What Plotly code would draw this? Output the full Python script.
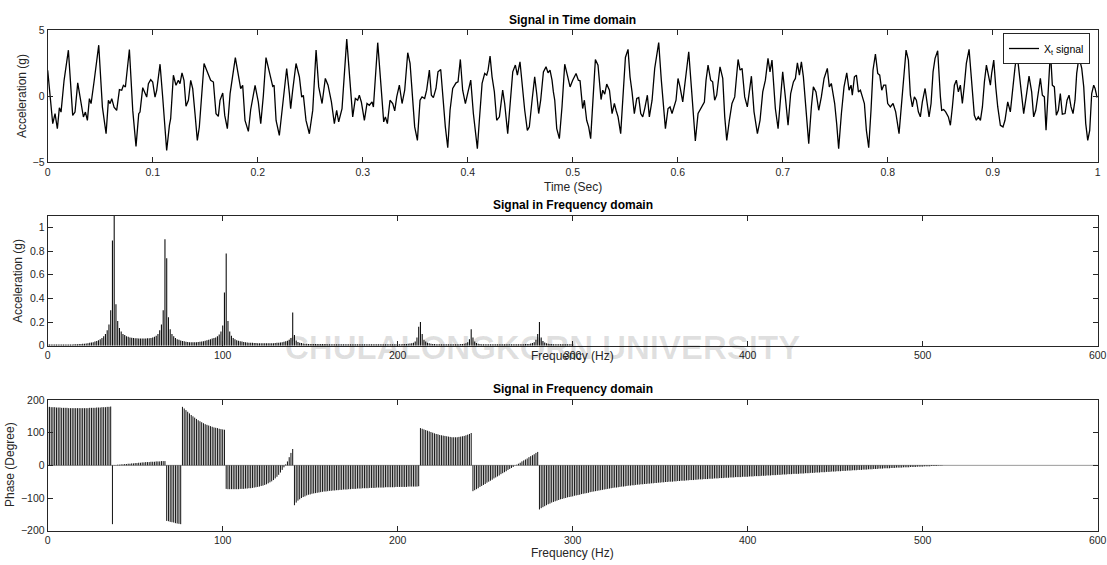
import plotly.graph_objects as go

FONT = "Liberation Sans, Arial, Helvetica, sans-serif"
INK = "#262626"

# ---------------- Time domain signal ----------------
time_s = [
    0.0000, 0.0048, 0.0070, 0.0092, 0.0111, 0.0127, 0.0156, 0.0197, 0.0238, 0.0260,
    0.0286, 0.0308, 0.0340, 0.0359, 0.0378, 0.0397, 0.0413, 0.0441, 0.0486, 0.0521,
    0.0556, 0.0578, 0.0594, 0.0610, 0.0632, 0.0657, 0.0683, 0.0705, 0.0721, 0.0740,
    0.0778, 0.0810, 0.0841, 0.0867, 0.0879, 0.0905, 0.0924, 0.0943, 0.0959, 0.0981,
    0.1000, 0.1022, 0.1038, 0.1070, 0.1095, 0.1133, 0.1159, 0.1171, 0.1197, 0.1222,
    0.1244, 0.1260, 0.1279, 0.1298, 0.1317, 0.1340, 0.1362, 0.1381, 0.1403, 0.1425,
    0.1444, 0.1467, 0.1489, 0.1514, 0.1552, 0.1578, 0.1603, 0.1625, 0.1641, 0.1667,
    0.1686, 0.1711, 0.1737, 0.1787, 0.1825, 0.1838, 0.1857, 0.1879, 0.1911, 0.1933,
    0.1975, 0.2006, 0.2029, 0.2054, 0.2079, 0.2117, 0.2143, 0.2156, 0.2175, 0.2206,
    0.2232, 0.2276, 0.2302, 0.2314, 0.2333, 0.2365, 0.2397, 0.2419, 0.2435, 0.2460,
    0.2492, 0.2524, 0.2556, 0.2581, 0.2613, 0.2644, 0.2670, 0.2702, 0.2730, 0.2752,
    0.2771, 0.2803, 0.2848, 0.2879, 0.2905, 0.2930, 0.2952, 0.2968, 0.2987, 0.3016,
    0.3041, 0.3063, 0.3089, 0.3102, 0.3143, 0.3175, 0.3200, 0.3216, 0.3235, 0.3260,
    0.3286, 0.3305, 0.3324, 0.3349, 0.3375, 0.3400, 0.3429, 0.3451, 0.3476, 0.3495,
    0.3521, 0.3546, 0.3565, 0.3590, 0.3609, 0.3635, 0.3654, 0.3673, 0.3698, 0.3717,
    0.3743, 0.3768, 0.3787, 0.3810, 0.3832, 0.3857, 0.3889, 0.3908, 0.3930, 0.3952,
    0.3978, 0.4003, 0.4029, 0.4054, 0.4092, 0.4111, 0.4137, 0.4162, 0.4181, 0.4194,
    0.4213, 0.4232, 0.4254, 0.4276, 0.4302, 0.4333, 0.4352, 0.4381, 0.4403, 0.4429,
    0.4454, 0.4473, 0.4498, 0.4524, 0.4543, 0.4568, 0.4587, 0.4613, 0.4638, 0.4657,
    0.4676, 0.4695, 0.4721, 0.4746, 0.4765, 0.4784, 0.4803, 0.4816, 0.4829, 0.4848,
    0.4873, 0.4898, 0.4924, 0.4949, 0.4975, 0.5000, 0.5032, 0.5054, 0.5070, 0.5095,
    0.5111, 0.5133, 0.5152, 0.5171, 0.5190, 0.5216, 0.5241, 0.5270, 0.5286, 0.5305,
    0.5324, 0.5350, 0.5375, 0.5397, 0.5413, 0.5432, 0.5457, 0.5483, 0.5502, 0.5527,
    0.5546, 0.5565, 0.5587, 0.5610, 0.5629, 0.5648, 0.5667, 0.5686, 0.5711, 0.5730,
    0.5756, 0.5781, 0.5819, 0.5844, 0.5863, 0.5883, 0.5908, 0.5927, 0.5946, 0.5971,
    0.5984, 0.6003, 0.6022, 0.6048, 0.6073, 0.6105, 0.6130, 0.6149, 0.6168, 0.6194,
    0.6225, 0.6254, 0.6270, 0.6289, 0.6314, 0.6333, 0.6352, 0.6371, 0.6403, 0.6429,
    0.6448, 0.6467, 0.6492, 0.6517, 0.6543, 0.6575, 0.6594, 0.6613, 0.6638, 0.6663,
    0.6702, 0.6727, 0.6759, 0.6784, 0.6810, 0.6835, 0.6860, 0.6879, 0.6898, 0.6917,
    0.6930, 0.6956, 0.6975, 0.7000, 0.7025, 0.7051, 0.7076, 0.7102, 0.7121, 0.7140,
    0.7159, 0.7178, 0.7197, 0.7216, 0.7248, 0.7273, 0.7292, 0.7317, 0.7343, 0.7368,
    0.7394, 0.7425, 0.7444, 0.7463, 0.7495, 0.7514, 0.7533, 0.7559, 0.7584, 0.7610,
    0.7632, 0.7651, 0.7663, 0.7683, 0.7702, 0.7721, 0.7740, 0.7759, 0.7778, 0.7797,
    0.7819, 0.7841, 0.7860, 0.7883, 0.7905, 0.7924, 0.7943, 0.7962, 0.7981, 0.8000,
    0.8025, 0.8051, 0.8076, 0.8108, 0.8133, 0.8152, 0.8175, 0.8197, 0.8216, 0.8235,
    0.8254, 0.8273, 0.8292, 0.8311, 0.8330, 0.8356, 0.8375, 0.8394, 0.8413, 0.8432,
    0.8451, 0.8476, 0.8502, 0.8514, 0.8533, 0.8552, 0.8578, 0.8597, 0.8616, 0.8635,
    0.8654, 0.8673, 0.8692, 0.8711, 0.8730, 0.8749, 0.8775, 0.8800, 0.8825, 0.8844,
    0.8863, 0.8883, 0.8902, 0.8921, 0.8940, 0.8959, 0.8978, 0.8990, 0.9010, 0.9029,
    0.9048, 0.9073, 0.9098, 0.9117, 0.9143, 0.9168, 0.9187, 0.9213, 0.9232, 0.9257,
    0.9276, 0.9295, 0.9321, 0.9346, 0.9371, 0.9390, 0.9410, 0.9435, 0.9454, 0.9473,
    0.9492, 0.9508, 0.9550, 0.9568, 0.9587, 0.9606, 0.9625, 0.9644, 0.9663, 0.9689,
    0.9708, 0.9727, 0.9746, 0.9765, 0.9784, 0.9800, 0.9822, 0.9848, 0.9867, 0.9886,
    0.9905, 0.9924, 0.9943, 0.9962, 0.9975, 0.9994,
]
accel_g = [
    1.95, -2.10, -1.34, -2.48, -0.89, -1.22, 1.19, 3.47, -1.47, -1.22,
    0.99, -0.08, -1.59, -1.22, -1.85, -0.20, -0.58, 1.06, 3.85, -0.84,
    -2.86, -0.33, -0.58, -0.20, -0.84, -1.09, 0.48, 0.43, 0.81, 0.68,
    3.52, -1.09, -3.82, -1.34, -1.22, 0.63, 0.30, -0.08, 0.94, 1.24,
    1.06, -0.08, 0.43, 2.41, -0.08, -4.13, -2.23, -1.72, 1.57, 0.81,
    1.19, 0.94, 1.75, 1.19, -0.78, -0.33, 1.19, 0.56, -1.34, -3.37,
    -2.35, -0.08, 2.46, 1.95, 1.19, 1.06, -1.34, -1.54, -0.33, 0.23,
    -1.47, -2.48, 0.18, 2.91, 0.94, 0.56, 0.81, -1.85, -2.68, -1.04,
    0.81, -0.46, -2.10, 0.05, 2.91, 1.57, 0.73, 0.81, -1.85, -2.99,
    -1.09, 2.08, 0.18, -0.96, 0.43, 2.46, 1.44, -0.08, 0.05, -1.85,
    -2.86, -1.09, 3.48, 0.69, -0.57, 1.33, 0.82, -0.45, -2.09, -1.08,
    -1.96, -0.95, 4.31, 0.69, -1.58, -0.19, -0.32, 0.06, -0.45, -1.84,
    -0.57, -0.70, -0.45, -0.83, 4.04, 0.69, -1.96, -1.58, -2.09, -0.32,
    -0.57, -1.13, -0.07, 0.82, -0.57, 0.44, 3.28, 2.47, -0.57, -2.34,
    -3.36, -0.32, -0.07, -0.19, 0.44, 1.96, 0.06, -0.12, 0.57, 1.83,
    2.01, -0.83, -2.34, -3.92, -1.08, 0.57, 1.00, 1.07, 2.77, 0.44,
    -0.57, 0.31, 1.20, -1.33, -3.99, -1.84, 0.95, 1.71, 1.58, 1.96,
    3.02, 1.45, 0.31, -1.84, -1.58, 0.44, -0.57, -2.85, -0.83, 1.83,
    2.34, 1.58, 2.59, 0.44, -1.08, -2.60, -2.34, -0.32, 1.45, 0.19,
    -1.33, -0.32, 1.83, 2.21, 1.76, 1.96, 1.20, 0.31, -0.32, -2.47,
    -3.23, -0.83, 2.41, 1.58, 0.69, 1.20, 1.71, 1.20, 1.15, -0.95,
    -0.32, -1.84, -2.34, -3.23, -0.83, 2.77, 2.34, -0.27, 0.44, 0.14,
    0.90, 0.44, -1.33, -0.57, -1.08, -1.58, -2.85, 0.69, 2.92, 3.53,
    1.45, 0.31, -1.33, -0.19, -0.12, -1.33, -1.58, -0.95, 0.06, -1.58,
    -0.32, 2.09, 4.04, 1.20, -0.57, -2.47, -0.95, -0.83, -1.33, -0.70,
    -0.32, 1.33, 0.69, -0.45, 1.45, 3.35, 0.69, -1.58, -3.41, -1.33,
    -0.83, -0.45, 1.20, 2.34, 1.20, 1.07, -0.32, 0.06, 2.21, 1.33,
    -1.58, -3.36, -1.84, -0.57, -0.07, 2.77, 1.96, 2.09, -0.07, -0.83,
    1.50, -1.20, -2.85, -1.84, 0.31, 1.20, 2.85, 1.83, 2.72, 0.69,
    -0.95, -2.47, -0.57, 1.83, -0.07, -2.22, 0.19, 1.07, 1.33, 2.52,
    1.58, 2.59, 1.45, -0.32, -3.61, -0.83, 0.69, 0.31, -1.08, -0.07,
    1.33, 2.09, 0.69, 0.95, -0.57, -2.09, -3.99, -1.33, 0.69, 1.76,
    0.44, 0.82, 0.06, 1.45, 1.58, 0.31, 0.44, -0.07, -0.57, -2.60,
    -3.92, -1.08, 1.96, 3.18, 1.71, 1.58, 0.44, 0.82, 0.82, -0.57,
    -0.83, -0.57, -1.20, -2.85, -0.57, 1.20, 3.48, 2.72, 0.06, -0.83,
    -0.07, -0.32, -1.20, -1.58, -0.45, 0.57, -0.45, -1.58, -0.57, 1.83,
    2.85, 3.43, -0.07, -1.08, -1.03, -1.20, -1.58, -2.22, -0.83, 0.82,
    1.20, 0.31, 0.82, -0.57, 0.82, 2.47, 3.53, 0.69, -1.46, -1.84,
    -1.58, -1.84, -0.83, 1.07, 2.34, 1.58, 0.82, 1.71, 2.72, 0.69,
    -0.83, -2.22, -2.34, -1.84, -0.45, -1.20, 0.31, 2.21, 3.23, 1.33,
    -0.32, -1.33, 0.06, 1.50, 0.31, -1.58, -1.08, 0.44, 1.33, 0.06,
    -0.07, -2.60, 3.40, 0.82, 0.69, -1.46, -1.08, 0.19, -1.38, -1.33,
    -0.32, 0.06, -0.83, -1.33, -0.32, 1.71, 2.97, 2.09, 0.69, -2.09,
    -3.36, -2.60, 0.19, 0.82, 0.57, -0.12,
]

# ---------------- Magnitude spectrum, 1 Hz bins ------
mag_start_hz = [0, 50, 100, 150, 200, 250]
mag_000_049 = [0.010, 0.010, 0.010, 0.010, 0.010, 0.010, 0.010, 0.010, 0.010, 0.010,
               0.010, 0.010, 0.010, 0.011, 0.011, 0.012, 0.012, 0.013, 0.014, 0.015,
               0.016, 0.017, 0.019, 0.021, 0.024, 0.027, 0.030, 0.035, 0.040, 0.047,
               0.055, 0.065, 0.080, 0.100, 0.130, 0.180, 0.300, 0.890, 1.150, 0.350,
               0.210, 0.150, 0.120, 0.100, 0.090, 0.080, 0.075, 0.070, 0.067, 0.065]
mag_050_099 = [0.063, 0.062, 0.061, 0.060, 0.060, 0.060, 0.061, 0.062, 0.063, 0.065,
               0.070, 0.075, 0.085, 0.100, 0.130, 0.180, 0.300, 0.900, 0.740, 0.240,
               0.140, 0.100, 0.080, 0.065, 0.055, 0.050, 0.045, 0.040, 0.037, 0.034,
               0.032, 0.030, 0.030, 0.030, 0.030, 0.030, 0.031, 0.033, 0.035, 0.038,
               0.042, 0.046, 0.050, 0.055, 0.060, 0.065, 0.070, 0.080, 0.095, 0.120]
mag_100_149 = [0.170, 0.450, 0.780, 0.210, 0.120, 0.085, 0.065, 0.055, 0.047, 0.042,
               0.038, 0.035, 0.032, 0.030, 0.028, 0.026, 0.025, 0.024, 0.023, 0.022,
               0.021, 0.020, 0.020, 0.020, 0.020, 0.020, 0.020, 0.020, 0.020, 0.021,
               0.022, 0.024, 0.026, 0.028, 0.030, 0.033, 0.037, 0.042, 0.050, 0.065,
               0.280, 0.090, 0.045, 0.032, 0.026, 0.022, 0.019, 0.017, 0.016, 0.015]
mag_150_199 = [0.014, 0.014, 0.014, 0.014, 0.014, 0.014, 0.014, 0.014, 0.014, 0.014,
               0.013, 0.013, 0.013, 0.013, 0.013, 0.013, 0.013, 0.013, 0.013, 0.013,
               0.013, 0.013, 0.013, 0.013, 0.013, 0.013, 0.013, 0.013, 0.013, 0.013,
               0.013, 0.013, 0.013, 0.013, 0.013, 0.013, 0.013, 0.013, 0.013, 0.013,
               0.013, 0.013, 0.013, 0.013, 0.013, 0.013, 0.013, 0.013, 0.013, 0.013]
mag_200_249 = [0.013, 0.013, 0.013, 0.014, 0.014, 0.015, 0.016, 0.018, 0.020, 0.025,
               0.035, 0.070, 0.160, 0.200, 0.100, 0.050, 0.035, 0.026, 0.020, 0.017,
               0.015, 0.014, 0.013, 0.013, 0.012, 0.012, 0.012, 0.012, 0.012, 0.012,
               0.012, 0.012, 0.012, 0.012, 0.013, 0.013, 0.014, 0.015, 0.017, 0.020,
               0.030, 0.055, 0.140, 0.070, 0.035, 0.022, 0.017, 0.014, 0.013, 0.012]
mag_250_300 = [0.012, 0.012, 0.012, 0.012, 0.012, 0.012, 0.012, 0.012, 0.012, 0.012,
               0.012, 0.012, 0.012, 0.012, 0.012, 0.012, 0.012, 0.012, 0.012, 0.012,
               0.012, 0.013, 0.013, 0.014, 0.014, 0.015, 0.018, 0.022, 0.030, 0.050,
               0.100, 0.200, 0.070, 0.040, 0.028, 0.020, 0.017, 0.015, 0.014, 0.013,
               0.012, 0.012, 0.012, 0.012, 0.012, 0.012, 0.012, 0.012, 0.012, 0.012,
               0.012]

# ---------------- Phase spectrum, 1 Hz bins (degrees) --
phase_start_hz = [0, 37, 38, 68, 77, 102, 141, 213, 243, 281]
phase_000_036 = [179, 179, 178, 178, 178, 177, 177, 177, 176, 176, 176, 176, 175, 175,
                 175, 175, 175, 175, 175, 175, 175, 175, 175, 175, 176, 176, 176, 176,
                 177, 177, 177, 178, 178, 178, 179, 179, 180]
phase_037 = [-180]
phase_038_067 = [1, 1, 2, 2, 3, 3, 4, 4, 5, 5, 6, 6, 7, 7, 8, 8, 9, 9, 10, 10, 10, 11,
                 11, 11, 12, 12, 12, 13, 13, 13]
phase_068_076 = [-170, -171, -173, -174, -175, -177, -178, -179, -180]
phase_077_101 = [179, 174, 169, 164, 159, 154, 150, 146, 142, 138, 135, 132, 129, 126,
                 124, 122, 120, 118, 116, 115, 114, 112, 111, 110, 109]
phase_102_140 = [-72, -73, -73, -73, -73, -73, -73, -73, -72, -72, -72, -71, -71, -70,
                 -70, -69, -68, -67, -66, -65, -63, -62, -60, -58, -55, -52, -49, -45,
                 -40, -35, -29, -22, -14, -6, 3, 12, 25, 38, 50]
phase_141_212 = [-122, -114, -108, -104, -100, -97, -95, -92, -90, -89, -87, -86, -85,
                 -84, -83, -82, -81, -80, -80, -79, -78, -78, -77, -77, -76, -76, -75,
                 -75, -74, -74, -74, -73, -73, -72, -72, -72, -71, -71, -71, -70, -70,
                 -70, -70, -69, -69, -69, -69, -68, -68, -68, -68, -68, -67, -67, -67,
                 -67, -67, -67, -66, -66, -66, -66, -66, -66, -66, -65, -65, -65, -65,
                 -65, -65, -64]
phase_213_242 = [114, 112, 110, 108, 106, 104, 102, 100, 98, 96, 95, 93, 92, 91, 90, 89,
                 88, 87, 86, 86, 86, 86, 87, 88, 89, 90, 92, 94, 96, 99]
phase_243_280 = [-79, -76, -73, -70, -66, -63, -60, -57, -53, -50, -47, -44, -40, -37,
                 -34, -31, -27, -24, -21, -18, -14, -11, -8, -5, -1, 2, 5, 8, 12, 15, 18,
                 21, 25, 28, 31, 34, 38, 41]
phase_281_511 = [
    -135, -131, -128, -125, -122, -119, -117, -114, -112, -110, -108, -106, -104, -103, -101, -100, -98, -97, -96, -95,
    -93, -92, -91, -90, -88, -87, -86, -85, -84, -82, -81, -80, -79, -78, -77, -76, -75, -74, -73, -72,
    -71, -70, -69, -68, -68, -67, -66, -65, -65, -64, -63, -62, -62, -61, -61, -60, -59, -59, -58, -58,
    -57, -57, -56, -56, -55, -55, -54, -54, -53, -53, -52, -52, -51, -51, -50, -50, -50, -49, -49, -48,
    -48, -47, -47, -47, -46, -46, -45, -45, -45, -44, -44, -43, -43, -43, -42, -42, -42, -41, -41, -41,
    -40, -40, -40, -39, -39, -39, -38, -38, -38, -37, -37, -37, -36, -36, -36, -36, -35, -35, -35, -35,
    -34, -34, -34, -33, -33, -33, -33, -32, -32, -32, -31, -31, -31, -30, -30, -30, -29, -29, -29, -28,
    -28, -28, -27, -27, -27, -26, -26, -26, -26, -25, -25, -25, -24, -24, -24, -23, -23, -23, -22, -22,
    -22, -21, -21, -21, -20, -20, -20, -19, -19, -19, -18, -18, -18, -17, -17, -17, -16, -16, -16, -15,
    -15, -15, -14, -14, -14, -13, -13, -13, -12, -12, -12, -11, -11, -11, -10, -10, -10, -9, -9, -9,
    -9, -8, -8, -8, -7, -7, -7, -7, -6, -6, -6, -6, -5, -5, -5, -5, -4, -4, -4, -4,
    -3, -3, -3, -3, -2, -2, -2, -2, -1, -1, -1,
]

time_ticks = [0, 0.1, 0.2, 0.3, 0.4, 0.5, 0.6, 0.7, 0.8, 0.9, 1]
time_ticktext = ["0", "0.1", "0.2", "0.3", "0.4", "0.5", "0.6", "0.7", "0.8", "0.9", "1"]
freq_ticks = [0, 100, 200, 300, 400, 500, 600]
mag_ticks = [0, 0.2, 0.4, 0.6, 0.8, 1]
mag_ticktext = ["0", "0.2", "0.4", "0.6", "0.8", "1"]
phase_ticks = [-200, -100, 0, 100, 200]


def stem_xy(starts, segments):
    xs, ys = [], []
    for s, seg in zip(starts, segments):
        for i, v in enumerate(seg):
            f = s + i
            xs += [f, f, None]
            ys += [0, v, None]
    return xs, ys


mag_x, mag_y = stem_xy(mag_start_hz, [mag_000_049, mag_050_099, mag_100_149,
                                      mag_150_199, mag_200_249, mag_250_300])
ph_x, ph_y = stem_xy(phase_start_hz, [phase_000_036, phase_037, phase_038_067,
                                      phase_068_076, phase_077_101, phase_102_140,
                                      phase_141_212, phase_213_242, phase_243_280,
                                      phase_281_511])

W, H = 1107, 565
x0, x1 = 47.7 / W, 1097.7 / W
def ydom(top_px, bot_px):
    return [1 - bot_px / H, 1 - top_px / H]

fig = go.Figure()
fig.add_trace(go.Scatter(x=time_s, y=accel_g, mode="lines", name="X<sub>t</sub> signal",
                         line=dict(color="#000000", width=1.3), xaxis="x", yaxis="y"))
fig.add_trace(go.Scatter(x=mag_x, y=mag_y, mode="lines", showlegend=False,
                         line=dict(color="#111111", width=1.1), xaxis="x2", yaxis="y2"))
fig.add_trace(go.Scatter(x=[0, 600], y=[0, 0], mode="lines", showlegend=False,
                         line=dict(color="#9a9a9a", width=1), xaxis="x3", yaxis="y3"))
fig.add_trace(go.Scatter(x=ph_x, y=ph_y, mode="lines", showlegend=False,
                         line=dict(color="#111111", width=1), xaxis="x3", yaxis="y3"))

def axis(**kw):
    d = dict(showline=True, linecolor=INK, linewidth=1, mirror="ticks", ticks="inside",
             ticklen=5, tickcolor=INK, showgrid=False, zeroline=False, automargin=False,
             tickfont=dict(family=FONT, size=10.5, color=INK))
    d.update(kw)
    return d

fig.update_layout(
    width=W, height=H, autosize=False,
    margin=dict(l=0, r=0, t=0, b=0, autoexpand=False),
    paper_bgcolor="white", plot_bgcolor="rgba(0,0,0,0)",
    font=dict(family=FONT, color=INK),
    xaxis=axis(domain=[x0, x1], range=[0, 1], tickvals=time_ticks, ticktext=time_ticktext, anchor="y"),
    yaxis=axis(domain=ydom(30, 162), range=[-5, 5], tickvals=[-5, 0, 5], anchor="x"),
    xaxis2=axis(domain=[x0, x1], range=[0, 600], tickvals=freq_ticks, anchor="y2"),
    yaxis2=axis(domain=ydom(215.7, 345.7), range=[0, 1.1], tickvals=mag_ticks, ticktext=mag_ticktext, anchor="x2"),
    xaxis3=axis(domain=[x0, x1], range=[0, 600], tickvals=freq_ticks, anchor="y3"),
    yaxis3=axis(domain=ydom(400, 530.7), range=[-200, 200], tickvals=phase_ticks, anchor="x3"),
    showlegend=True,
    legend=dict(x=1090 / W, y=1 - 33 / H, xanchor="right", yanchor="top",
                bgcolor="white", bordercolor=INK, borderwidth=1,
                font=dict(family=FONT, size=10.5, color="#000000"),
                itemwidth=30, tracegroupgap=0),
)

cx = (47.7 + 1097.7) / 2 / W
ann = []
# faint watermark text behind the middle panel
ann.append(dict(text="<b>CHULALONGKORN UNIVERSITY</b>", x=542 / W, y=1 - 347 / H,
                xref="paper", yref="paper", showarrow=False, xanchor="center", yanchor="middle",
                font=dict(family="Liberation Sans, Arial, sans-serif",
                          size=33, color="rgba(0,0,0,0.12)")))
for txt, py in [("Signal in Time domain", 20), ("Signal in Frequency domain", 205),
                ("Signal in Frequency domain", 389)]:
    ann.append(dict(text="<b>" + txt + "</b>", x=cx, y=1 - py / H, xref="paper", yref="paper",
                    showarrow=False, xanchor="center", yanchor="middle",
                    font=dict(family=FONT, size=12, color="#000000")))
for txt, py in [("Time (Sec)", 187), ("Frequency (Hz)", 356), ("Frequency (Hz)", 553)]:
    ann.append(dict(text=txt, x=cx, y=1 - py / H, xref="paper", yref="paper",
                    showarrow=False, xanchor="center", yanchor="middle",
                    font=dict(family=FONT, size=12, color=INK)))
for txt, px, py in [("Acceleration (g)", 22, 96), ("Acceleration (g)", 18, 281),
                    ("Phase (Degree)", 10, 465)]:
    ann.append(dict(text=txt, x=px / W, y=1 - py / H, xref="paper", yref="paper",
                    showarrow=False, xanchor="center", yanchor="middle", textangle=-90,
                    font=dict(family=FONT, size=12, color=INK)))
fig.update_layout(annotations=ann)

fig.write_html("out.html", config={"displayModeBar": False},
               post_script="document.body.style.margin='0';document.body.style.overflow='hidden';")
